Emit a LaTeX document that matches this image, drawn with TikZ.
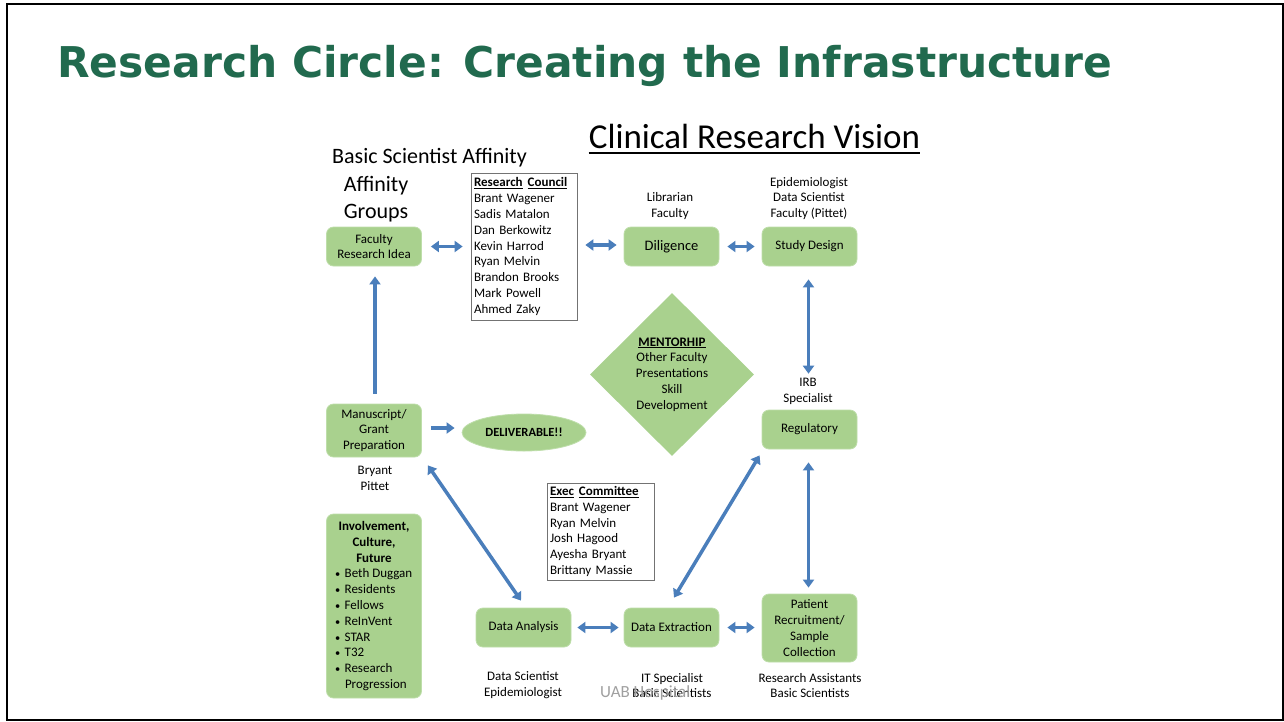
\documentclass[tikz,border=0pt]{standalone}
\usepackage{fontspec}
\usepackage{graphicx}
\setmainfont{Carlito}
\newfontfamily\titlefont{DejaVu Sans}
\usetikzlibrary{arrows.meta,shapes.geometric}
\definecolor{titlegreen}{RGB}{33,106,78}
\definecolor{boxgreen}{RGB}{169,209,142}
\definecolor{boxedge}{RGB}{190,222,170}
\definecolor{arrowblue}{RGB}{74,126,187}
\definecolor{wmgray}{RGB}{160,160,160}
\newcommand{\bul}{\scalebox{0.8}{\textbullet}\hspace{4.5pt}}
\begin{document}
\begin{tikzpicture}[x=1pt,y=-1pt,
  every node/.style={font=\fontsize{13}{15.8}\selectfont, inner sep=0pt},
  gbox/.style={fill=boxgreen, draw=boxedge, line width=0.8pt, rounded corners=7pt,
    minimum width=95pt, minimum height=39pt, align=center},
  listbox/.style={draw=black!55, fill=white, line width=0.7pt, align=left,
    inner xsep=3pt, inner ysep=0pt},
  lbl/.style={align=center},
  conn/.style={draw=arrowblue, line width=3.5pt, {Triangle[length=8pt,width=11pt]}-{Triangle[length=8pt,width=11pt]}},
  oneway/.style={draw=arrowblue, line width=3.5pt, -{Triangle[length=8pt,width=11pt]}},
]
\useasboundingbox (0,0) rectangle (1284,721);
\fill[white] (0,0) rectangle (1284,721);
\draw[line width=2pt] (7,4) rectangle (1283,719.5);

% title
\node[anchor=base west, text=titlegreen] (title) at (57,77)
  {\resizebox{1055pt}{!}{\titlefont\bfseries Research Circle: Creating the Infrastructure}};

% headings
\node[anchor=base, font=\fontsize{35}{40}\selectfont] (crv) at (754.5,148) {Clinical Research Vision};
\draw[line width=2pt] ([shift={(0,5)}]crv.base west) -- ([shift={(0,5)}]crv.base east);
\node[anchor=base, font=\fontsize{22}{27}\selectfont] (bsa) at (429.5,163) {Basic Scientist Affinity};
\node[align=center, font=\fontsize{22}{27}\selectfont] (ag) at (376,199) {Affinity\\Groups};

% boxes
\node[gbox] (fri) at (374,246.5) {Faculty\\Research Idea};
\node[gbox, font=\fontsize{14.5}{17}\selectfont] (dil) at (671.5,246.5) {Diligence};
\node[gbox] (sd) at (809.5,246.5) {Study Design};
\node[gbox] (reg) at (809.5,429.5) {Regulatory};
\node[gbox, minimum height=53pt] (ms) at (374,430.5) {Manuscript/\\Grant\\Preparation};
\node[gbox] (da) at (523.5,627.5) {Data Analysis};
\node[gbox] (de) at (671.5,627.5) {Data Extraction};
\node[gbox, minimum height=68pt] (pr) at (809.5,628) {Patient\\Recruitment/\\Sample\\Collection};
\node[gbox, minimum height=184pt] (inv) at (374,606)
  {\textbf{Involvement,}\\\textbf{Culture,}\\\textbf{Future}\\
   \makebox[78pt][l]{\bul Beth Duggan}\\
   \makebox[78pt][l]{\bul Residents}\\
   \makebox[78pt][l]{\bul Fellows}\\
   \makebox[78pt][l]{\bul ReInVent}\\
   \makebox[78pt][l]{\bul STAR}\\
   \makebox[78pt][l]{\bul T32}\\
   \makebox[78pt][l]{\bul Research}\\
   \makebox[78pt][l]{\hspace{10pt}Progression}};
\node[ellipse, fill=boxgreen, draw=boxedge, line width=0.8pt, minimum width=124pt, minimum height=37pt,
  font=\bfseries\fontsize{12.5}{15}\selectfont] (deliv) at (524,432.5) {DELIVERABLE!!};
\node[diamond, fill=boxgreen, minimum width=164pt, minimum height=163pt, align=center] (men) at (672,374.5)
  {\textbf{\underline{MENTORHIP}}\\Other Faculty\\Presentations\\Skill\\Development};

% list boxes
\node[listbox, text width=100pt, minimum height=147pt] (council) at (524,246.5)
  {\textbf{\underline{Research}\hspace{5pt}\underline{Council}}\\Brant Wagener\\Sadis Matalon\\Dan Berkowitz\\Kevin Harrod\\Ryan Melvin\\Brandon Brooks\\Mark Powell\\Ahmed Zaky};
\node[listbox, text width=101pt, minimum height=97pt] (exec) at (600.5,531.5)
  {\textbf{\underline{Exec}\hspace{5pt}\underline{Committee}}\\Brant Wagener\\Ryan Melvin\\Josh Hagood\\Ayesha Bryant\\Brittany Massie};

% labels
\node[lbl] (libl) at (670,206) {Librarian\\Faculty};
\node[lbl] (sdl) at (809,198.5) {Epidemiologist\\Data Scientist\\Faculty (Pittet)};
\node[lbl] (irb) at (808,391) {IRB\\Specialist};
\node[lbl] (msl) at (375,478.5) {Bryant\\Pittet};
\node[lbl] (dal) at (523,685.5) {Data Scientist\\Epidemiologist};
\node[lbl] (dxl) at (672,685.5) {IT Specialist\\Basic Scientists};
\node[lbl] (prl) at (810,685.5) {Research Assistants\\Basic Scientists};
\node[anchor=base west, text=wmgray, font=\fontsize{17}{20}\selectfont] (uab) at (600,697) {UAB Hospital};

% connectors
\draw[conn, shorten <=9pt, shorten >=8pt] (fri.east) -- (council.west);
\draw[conn, shorten <=8pt, shorten >=7pt] ([shift={(0,-1.5)}]council.east) -- ([shift={(0,-1.5)}]dil.west);
\draw[conn, shorten <=8pt, shorten >=7pt] (dil.east) -- (sd.west);
\draw[conn, shorten <=13pt, shorten >=4pt] ([shift={(-1,0)}]sd.south) -- ([shift={(-1,0)}]sd.south |- irb.north);
\draw[oneway, shorten <=10pt, shorten >=10pt] ([shift={(1,0)}]ms.north) -- ([shift={(1,0)}]fri.south);
\draw[oneway, shorten <=9pt, shorten >=7pt] ([shift={(0,-2.5)}]ms.east) -- ([shift={(0,-2.5)}]ms.east -| deliv.west);
\draw[conn] ([shift={(6,8)}]ms.south east) -- ([shift={(-2.5,-7)}]da.north);
\draw[conn, shorten <=6pt, shorten >=5pt] (da.east) -- (de.west);
\draw[conn] ([shift={(2.5,-10)}]de.north) -- ([shift={(-2,6)}]reg.south west);
\draw[conn, shorten <=8pt, shorten >=7pt] (de.east) -- (de.east -| pr.west);
\draw[conn, shorten <=13pt, shorten >=6pt] ([shift={(-1,0)}]reg.south) -- ([shift={(-1,0)}]pr.north);
\end{tikzpicture}
\end{document}
